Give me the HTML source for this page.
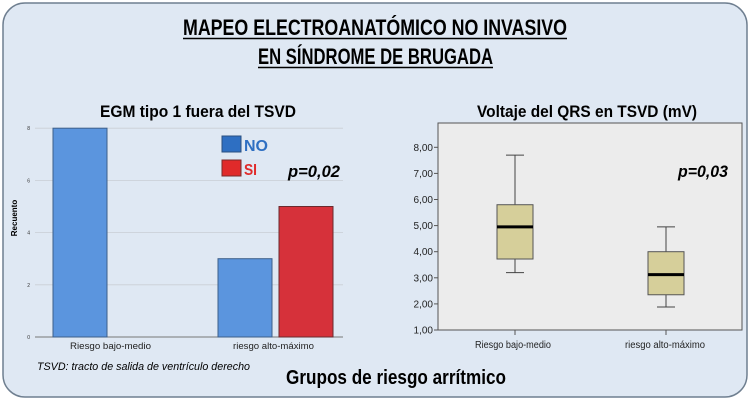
<!DOCTYPE html>
<html><head><meta charset="utf-8">
<style>
html,body{margin:0;padding:0;background:#fff;}
svg{display:block;font-family:"Liberation Sans",sans-serif;}
</style></head>
<body>
<svg id="fig" width="750" height="401" viewBox="0 0 750 401" xmlns="http://www.w3.org/2000/svg">
<rect x="3" y="3" width="744" height="394" rx="22" fill="#dfe8f3" stroke="#6f7f90" stroke-width="1.5"/>
<text x="183" y="35" textLength="384" lengthAdjust="spacingAndGlyphs" font-size="22" font-weight="bold" fill="#000">MAPEO ELECTROANATÓMICO NO INVASIVO</text>
<line x1="183" y1="38.5" x2="567" y2="38.5" stroke="#000" stroke-width="1.5"/>
<text x="258" y="64" textLength="235" lengthAdjust="spacingAndGlyphs" font-size="22" font-weight="bold" fill="#000">EN SÍNDROME DE BRUGADA</text>
<line x1="258" y1="67.5" x2="493" y2="67.5" stroke="#000" stroke-width="1.5"/>

<text x="100" y="117" textLength="196" lengthAdjust="spacingAndGlyphs" font-size="17" font-weight="bold">EGM tipo 1 fuera del TSVD</text>
<g id="bars"></g>
<text x="37" y="370" textLength="213" lengthAdjust="spacingAndGlyphs" font-size="11" font-style="italic">TSVD: tracto de salida de ventrículo derecho</text>

<text x="477" y="117" textLength="220" lengthAdjust="spacingAndGlyphs" font-size="17" font-weight="bold">Voltaje del QRS en TSVD (mV)</text>
<g id="box"></g>

<text x="286" y="384" textLength="220" lengthAdjust="spacingAndGlyphs" font-size="20" font-weight="bold">Grupos de riesgo arrítmico</text>
</svg>
<script>
const barCategories = ["Riesgo bajo-medio", "riesgo alto-máximo"];
const seriesNO = [8, 3];
const seriesSI = [0, 5];
const barTicks = [0, 2, 4, 6, 8];

const boxCategories = ["Riesgo bajo-medio", "riesgo alto-máximo"];
const boxMin = [3.2, 1.88];
const boxQ1 = [3.72, 2.35];
const boxMedian = [4.95, 3.12];
const boxQ3 = [5.8, 4.0];
const boxMax = [7.7, 4.95];
const boxTicks = ["1,00","2,00","3,00","4,00","5,00","6,00","7,00","8,00"];

const NS = "http://www.w3.org/2000/svg";
function mk(parent, tag, attrs, text) {
  const e = document.createElementNS(NS, tag);
  for (const k in attrs) e.setAttribute(k, attrs[k]);
  if (text !== undefined) e.textContent = text;
  parent.appendChild(e);
  return e;
}

// Bar chart
const bg = document.getElementById("bars");
const by = v => 337 - v * 26.1;
const barLeft = [53, 218];
barTicks.forEach(t => {
  if (t > 0) {
    const gl = mk(bg, "line", {x1: 35, x2: 343, y1: by(t), y2: by(t), stroke: "#c9ced4", "stroke-width": 0.8});
    
    
  }
  const tl = mk(bg, "text", {x: 30, y: by(t) + 2, "font-size": 5, "text-anchor": "end", fill: "#333"}, String(t));
  
  
});
const ax = mk(bg, "line", {x1: 35, x2: 343, y1: 337, y2: 337, stroke: "#777", "stroke-width": 1});


const yl = mk(bg, "text", {x: 0, y: 0, "font-size": 8, "font-weight": "bold", "text-anchor": "middle", transform: "translate(17,218) rotate(-90)"}, "Recuento");


const labX = [70, 233];
barCategories.forEach((c, i) => {
  if (seriesNO[i] > 0) {
    const r = mk(bg, "rect", {x: barLeft[i], y: by(seriesNO[i]), width: 54, height: 337 - by(seriesNO[i]), fill: "#5b95de", stroke: "#3d5f8a", "stroke-width": 1});
    
    
  }
  if (seriesSI[i] > 0) {
    const r = mk(bg, "rect", {x: barLeft[i] + 61, y: by(seriesSI[i]), width: 54, height: 337 - by(seriesSI[i]), fill: "#d6313a", stroke: "#6a2a2e", "stroke-width": 1});
    
    
  }
  const lt = mk(bg, "text", {x: labX[i], y: 349, "font-size": 9, textLength: 81, lengthAdjust: "spacingAndGlyphs", fill: "#222"}, c);
  
  
});
const l1 = mk(bg, "rect", {x: 222, y: 136, width: 19, height: 16, fill: "#2e6fc2", stroke: "#2a4f80"});


const l1t = mk(bg, "text", {x: 244, y: 151, "font-size": 16, "font-weight": "bold", textLength: 24, lengthAdjust: "spacingAndGlyphs", fill: "#2e6fc2"}, "NO");


const l2 = mk(bg, "rect", {x: 222, y: 160, width: 19, height: 16, fill: "#e02a2a", stroke: "#7a2a2a"});


const l2t = mk(bg, "text", {x: 244, y: 175, "font-size": 16, "font-weight": "bold", textLength: 13, lengthAdjust: "spacingAndGlyphs", fill: "#e02a2a"}, "SI");


const p1 = mk(bg, "text", {x: 288, y: 177, "font-size": 17, "font-weight": "bold", "font-style": "italic", textLength: 52, lengthAdjust: "spacingAndGlyphs"}, "p=0,02");



// Box chart
const xg = document.getElementById("box");
const vy = v => 330 - (v - 1) * 26.1;
const bx = [515, 666];
const pb = mk(xg, "rect", {x: 438, y: 123, width: 304, height: 207, fill: "#ececec", stroke: "#555", "stroke-width": 1});


boxTicks.forEach(t => {
  const v = parseFloat(t.replace(",", "."));
  const tk = mk(xg, "line", {x1: 434, x2: 438, y1: vy(v), y2: vy(v), stroke: "#555"});
  
  
  const tl = mk(xg, "text", {x: 433, y: vy(v) + 3.5, "font-size": 10, "text-anchor": "end", fill: "#222"}, t);
  
  
});
const bLabX = [475, 625];
const bLabW = [76, 80];
boxCategories.forEach((c, i) => {
  const cx = bx[i], w = 36;
  const wl = mk(xg, "line", {x1: cx, x2: cx, y1: vy(boxMax[i]), y2: vy(boxMin[i]), stroke: "#444", "stroke-width": 1});
  
  
  [boxMax[i], boxMin[i]].forEach(v => {
    const cap = mk(xg, "line", {x1: cx - 9, x2: cx + 9, y1: vy(v), y2: vy(v), stroke: "#444", "stroke-width": 1});
    
    
  });
  const b = mk(xg, "rect", {x: cx - w / 2, y: vy(boxQ3[i]), width: w, height: vy(boxQ1[i]) - vy(boxQ3[i]), fill: "#d6cf9a", stroke: "#555", "stroke-width": 1});
  
  
  const md = mk(xg, "line", {x1: cx - w / 2, x2: cx + w / 2, y1: vy(boxMedian[i]), y2: vy(boxMedian[i]), stroke: "#000", "stroke-width": 3});
  
  
  const xt = mk(xg, "line", {x1: cx, x2: cx, y1: 330, y2: 335, stroke: "#555"});
  
  
  const lt = mk(xg, "text", {x: bLabX[i], y: 348, "font-size": 10, textLength: bLabW[i], lengthAdjust: "spacingAndGlyphs", fill: "#222"}, c);
  
  
});
const p2 = mk(xg, "text", {x: 678, y: 177, "font-size": 17, "font-weight": "bold", "font-style": "italic", textLength: 50, lengthAdjust: "spacingAndGlyphs"}, "p=0,03");


</script>
</body></html>
